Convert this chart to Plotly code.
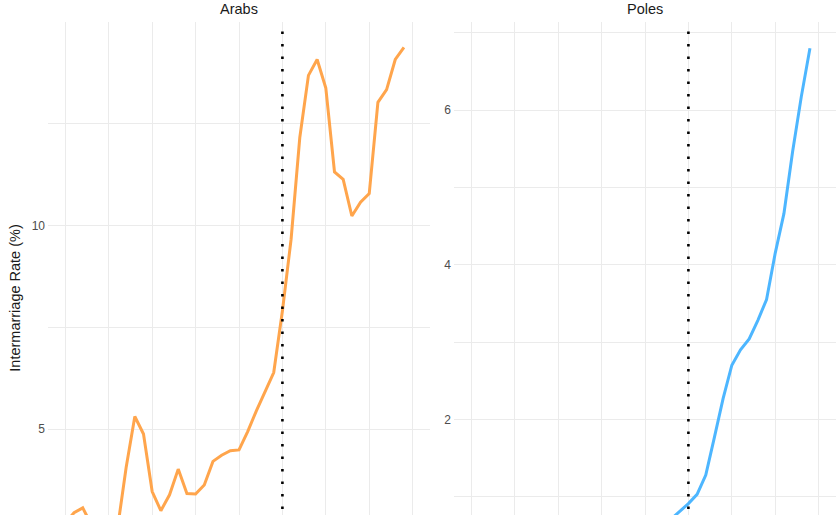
import plotly.graph_objects as go

# ---- data ----
years_arabs = list(range(1980, 2020))
arabs = [2.70, 2.95, 3.07, 2.65, 2.50, 2.50, 2.55, 4.06, 5.31, 4.88,
         3.47, 3.00, 3.39, 4.02, 3.42, 3.41, 3.63, 4.21, 4.36, 4.47,
         4.49, 4.94, 5.45, 5.94, 6.39, 7.90, 9.66, 12.15, 13.68, 14.07,
         13.37, 11.31, 11.13, 10.23, 10.57, 10.78, 13.02, 13.33, 14.07, 14.37]

years_poles = list(range(1998, 2020))
poles = [0.45, 0.48, 0.50, 0.55, 0.62, 0.71, 0.81, 0.91, 1.03, 1.28,
         1.77, 2.27, 2.70, 2.90, 3.04, 3.28, 3.55, 4.15, 4.66, 5.46,
         6.17, 6.80]

event_year = 2005
facet_titles = ["Arabs", "Poles"]
y_title = "Intermarriage Rate (%)"

ORANGE = "#FFA54C"
BLUE = "#4DB6FF"
GRID = "#EBEBEB"
FONT = "Liberation Sans, Arial, sans-serif"

fig = go.Figure()
fig.add_trace(go.Scatter(x=years_arabs, y=arabs, mode="lines",
                         line=dict(color=ORANGE, width=3), xaxis="x", yaxis="y",
                         showlegend=False))
fig.add_trace(go.Scatter(x=years_poles, y=poles, mode="lines",
                         line=dict(color=BLUE, width=3), xaxis="x2", yaxis="y2",
                         showlegend=False))

W, H = 836, 515
ml, mt = 48, 22
pw = W - ml
d1 = [0, (430 - ml) / pw]
d2 = [(454 - ml) / pw, 1]

xcommon = dict(range=[1978, 2022], tick0=1980, dtick=5, showticklabels=False,
               showgrid=True, gridcolor=GRID, gridwidth=1.1, zeroline=False,
               showline=False, ticks="")
fig.update_layout(
    width=W, height=H,
    margin=dict(l=ml, r=0, t=mt, b=0),
    paper_bgcolor="white", plot_bgcolor="white",
    font=dict(family=FONT, color="#4D4D4D", size=12),
    xaxis=dict(domain=d1, anchor="y", **xcommon),
    xaxis2=dict(domain=d2, anchor="y2", **xcommon),
    yaxis=dict(domain=[0, 1], anchor="x", range=[2.894, 14.99], tick0=0, dtick=5,
               showgrid=True, gridcolor=GRID, gridwidth=1.1, zeroline=False,
               minor=dict(dtick=2.5, showgrid=True, gridcolor=GRID, gridwidth=1.1),
               ticks="", ticklabelstandoff=2,
               tickfont=dict(size=12, color="#4D4D4D")),
    yaxis2=dict(domain=[0, 1], anchor="x2", range=[0.763, 7.138], tick0=0, dtick=2,
                showgrid=True, gridcolor=GRID, gridwidth=1.1, zeroline=False,
                minor=dict(dtick=1, showgrid=True, gridcolor=GRID, gridwidth=1.1),
                ticks="", ticklabelstandoff=2,
                tickfont=dict(size=12, color="#4D4D4D")),
)

top_frac = 1 - 9.5 / (H - mt)
for xr, yr in [("x", "y"), ("x2", "y2")]:
    fig.add_shape(type="line", xref=xr, yref=yr + " domain",
                  x0=event_year, x1=event_year, y0=top_frac, y1=0,
                  line=dict(color="black", width=2.6, dash="2.6px,9.9px"))

# facet strip titles
centers = [(48 + 430) / 2, (454 + 836) / 2]
for c, t in zip(centers, facet_titles):
    fig.add_annotation(text=t, x=(c - ml) / pw, y=1, xref="paper", yref="paper",
                       xanchor="center", yanchor="bottom", yshift=3, showarrow=False,
                       font=dict(size=14.5, color="#1A1A1A", family=FONT))

# y-axis title
fig.add_annotation(text=y_title, x=(15 - ml) / pw, y=1 - (298.7 - mt) / (H - mt),
                   xref="paper", yref="paper", textangle=-90, showarrow=False,
                   xanchor="center", yanchor="middle",
                   font=dict(size=14.5, color="#1A1A1A", family=FONT))

fig.write_html("out.html", config={"displayModeBar": False},
               post_script="document.body.style.margin='0';")
